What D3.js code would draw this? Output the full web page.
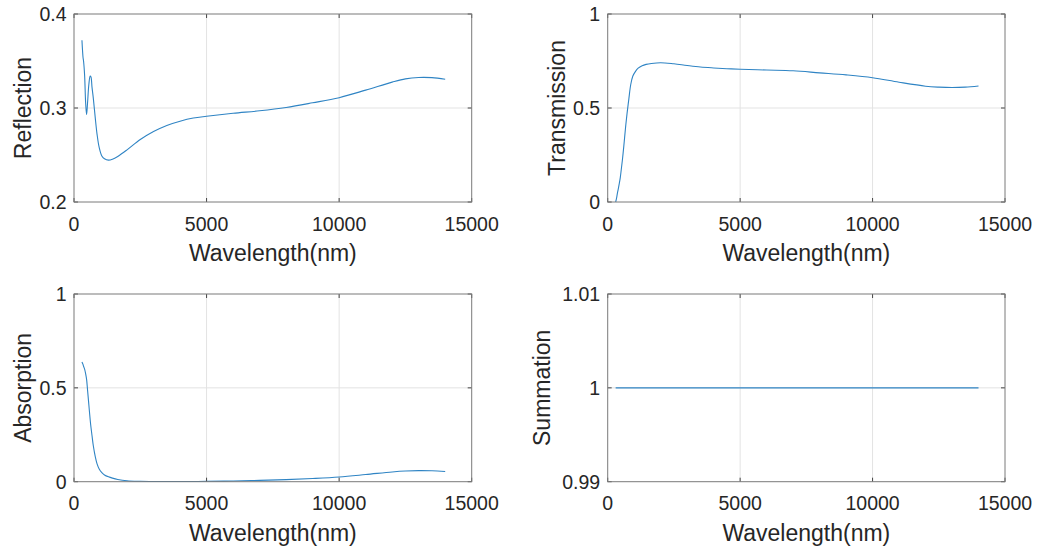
<!DOCTYPE html>
<html>
<head>
<meta charset="utf-8">
<script src="https://cdn.jsdelivr.net/npm/d3@7"></script>
<style>
  html, body { margin: 0; padding: 0; background: #ffffff; }
  svg { display: block; }
  text { font-family: "Liberation Sans", Arial, Helvetica, sans-serif; fill: #262626; }
</style>
</head>
<body>
<svg id="chart" width="1043" height="550"></svg>
<script>
// Wavelength samples (nm) shared by the optical spectra
const wavelength = [300, 340, 360, 400, 440, 475, 510, 560, 610, 640, 680, 730, 800, 870, 950,
  1050, 1150, 1300, 1450, 1650, 2000, 2500, 3000, 3500, 4000, 4500, 5000, 6000, 7000, 8000,
  9000, 10000, 11000, 12000, 12500, 13000, 13500, 14000];

const reflection = [0.372, 0.354, 0.350, 0.335, 0.305, 0.293, 0.305, 0.325, 0.334, 0.333, 0.322,
  0.310, 0.290, 0.272, 0.258, 0.249, 0.246, 0.2445, 0.2455, 0.2485, 0.2555, 0.2665, 0.275,
  0.2815, 0.286, 0.2893, 0.2912, 0.2944, 0.297, 0.3005, 0.3055, 0.311, 0.319, 0.3275, 0.331,
  0.3325, 0.3323, 0.3305];

const transmission = [0.0, 0.025, 0.042, 0.07, 0.1, 0.13, 0.17, 0.23, 0.3, 0.345, 0.405, 0.47,
  0.55, 0.625, 0.67, 0.695, 0.712, 0.725, 0.732, 0.737, 0.741, 0.735, 0.726, 0.718, 0.713, 0.709,
  0.706, 0.702, 0.698, 0.687, 0.676, 0.661, 0.637, 0.616, 0.611, 0.609, 0.611, 0.617];

const absorption = [0.638, 0.625, 0.615, 0.6, 0.575, 0.545, 0.49, 0.41, 0.33, 0.29, 0.245, 0.19,
  0.135, 0.095, 0.068, 0.048, 0.036, 0.026, 0.019, 0.012, 0.005, 0.002, 0.001, 0.001, 0.001, 0.001,
  0.002, 0.004, 0.007, 0.011, 0.017, 0.025, 0.038, 0.052, 0.057, 0.059, 0.058, 0.054];

const summation = [1, 1, 1, 1, 1, 1, 1, 1, 1, 1, 1, 1, 1, 1, 1, 1, 1, 1, 1, 1, 1, 1, 1, 1, 1,
  1, 1, 1, 1, 1, 1, 1, 1, 1, 1, 1, 1, 1];

const xTicks = [0, 5000, 10000, 15000];
const xTickLabels = ["0", "5000", "10000", "15000"];
const xTitle = "Wavelength(nm)";

const panelNames = ["Reflection", "Transmission", "Absorption", "Summation"];
const panelValues = [reflection, transmission, absorption, summation];
const yDomains = [[0.2, 0.4], [0, 1], [0, 1], [0.99, 1.01]];
const yTicks = [[0.2, 0.3, 0.4], [0, 0.5, 1], [0, 0.5, 1], [0.99, 1, 1.01]];
const yTickLabels = [["0.2", "0.3", "0.4"], ["0", "0.5", "1"], ["0", "0.5", "1"], ["0.99", "1", "1.01"]];

// Layout of the 2x2 grid of axes boxes
const boxes = [
  { left: 74,    right: 471.7, top: 14,  bottom: 202,   titleX: 31 },
  { left: 607.7, right: 1005,  top: 14,  bottom: 202,   titleX: 565 },
  { left: 74,    right: 471.7, top: 294, bottom: 481.7, titleX: 31 },
  { left: 607.7, right: 1005,  top: 294, bottom: 481.7, titleX: 549.5 }
];

const axisColor = "#7a7a7a";
const gridColor = "#e3e3e3";
const lineColor = "#2f84c4";
const tickLen = 4;

const svg = d3.select("#chart");

panelNames.forEach((name, i) => {
  const b = boxes[i];
  const x = d3.scaleLinear().domain([0, 15000]).range([b.left, b.right]);
  const y = d3.scaleLinear().domain(yDomains[i]).range([b.bottom, b.top]);
  const g = svg.append("g");

  // grid
  g.selectAll(".gx").data(xTicks.slice(1, -1)).join("line")
    .attr("x1", d => x(d)).attr("x2", d => x(d))
    .attr("y1", b.top).attr("y2", b.bottom)
    .attr("stroke", gridColor).attr("stroke-width", 1);
  g.selectAll(".gy").data(yTicks[i].slice(1, -1)).join("line")
    .attr("x1", b.left).attr("x2", b.right)
    .attr("y1", d => y(d)).attr("y2", d => y(d))
    .attr("stroke", gridColor).attr("stroke-width", 1);

  // data curve
  const pts = wavelength.map((w, k) => [w, panelValues[i][k]]);
  g.append("path")
    .datum(pts)
    .attr("fill", "none")
    .attr("stroke", lineColor)
    .attr("stroke-width", 1.1)
    .attr("d", d3.line().x(d => x(d[0])).y(d => y(d[1])).curve(d3.curveCatmullRom.alpha(0.5)));

  // inward ticks on all four sides
  const ticksG = g.append("g").attr("stroke", "#444").attr("stroke-width", 1);
  xTicks.forEach(t => {
    ticksG.append("line").attr("x1", x(t)).attr("x2", x(t)).attr("y1", b.bottom).attr("y2", b.bottom - tickLen);
    ticksG.append("line").attr("x1", x(t)).attr("x2", x(t)).attr("y1", b.top).attr("y2", b.top + tickLen);
  });
  yTicks[i].forEach(t => {
    ticksG.append("line").attr("x1", b.left).attr("x2", b.left + tickLen).attr("y1", y(t)).attr("y2", y(t));
    ticksG.append("line").attr("x1", b.right).attr("x2", b.right - tickLen).attr("y1", y(t)).attr("y2", y(t));
  });

  // box
  g.append("rect")
    .attr("x", b.left).attr("y", b.top)
    .attr("width", b.right - b.left).attr("height", b.bottom - b.top)
    .attr("fill", "none").attr("stroke", axisColor).attr("stroke-width", 1);

  // tick labels
  g.selectAll(".xl").data(xTicks).join("text")
    .attr("x", d => x(d)).attr("y", b.bottom + 28.5)
    .attr("text-anchor", "middle").attr("font-size", 19.5)
    .text((d, k) => xTickLabels[k]);
  g.selectAll(".yl").data(yTicks[i]).join("text")
    .attr("x", b.left - 7.5).attr("y", d => y(d) + 7)
    .attr("text-anchor", "end").attr("font-size", 19.5)
    .text((d, k) => yTickLabels[i][k]);

  // axis titles
  g.append("text")
    .attr("x", (b.left + b.right) / 2).attr("y", b.bottom + 59)
    .attr("text-anchor", "middle").attr("font-size", 23)
    .text(xTitle);
  g.append("text")
    .attr("transform", `translate(${b.titleX},${(b.top + b.bottom) / 2}) rotate(-90)`)
    .attr("text-anchor", "middle").attr("font-size", 23)
    .text(name);
});
</script>
</body>
</html>
